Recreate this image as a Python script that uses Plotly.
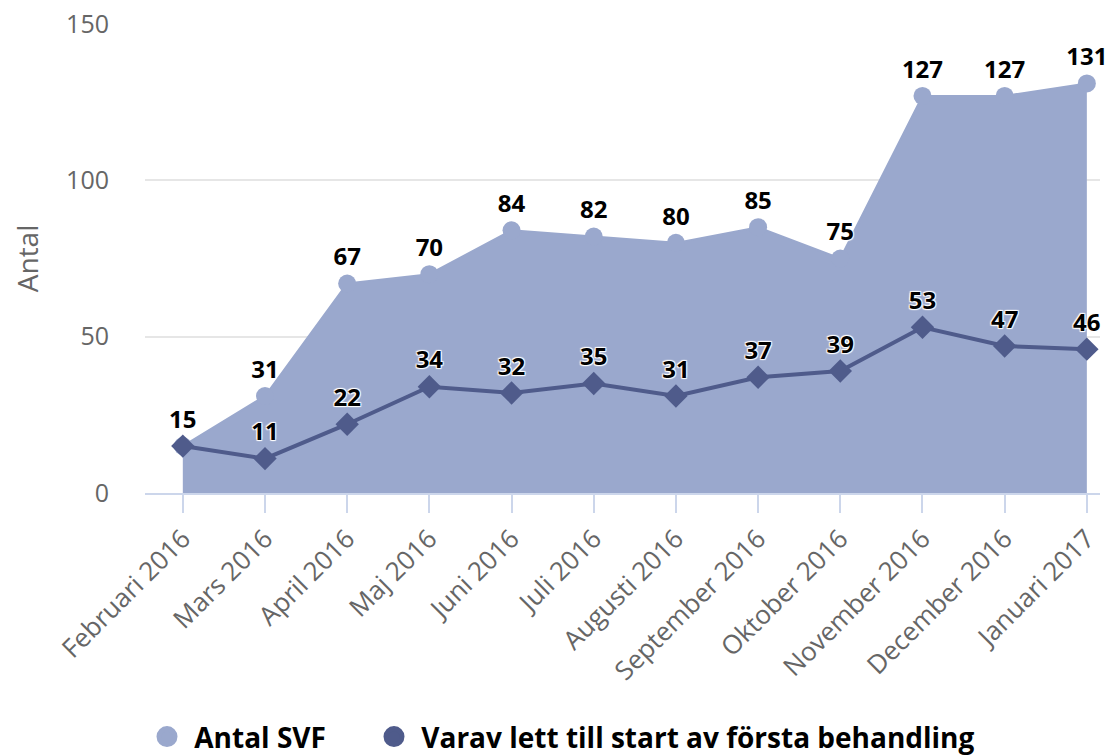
import plotly.graph_objects as go

months = [
    "Februari 2016", "Mars 2016", "April 2016", "Maj 2016", "Juni 2016",
    "Juli 2016", "Augusti 2016", "September 2016", "Oktober 2016",
    "November 2016", "December 2016", "Januari 2017",
]
antal_svf = [15, 31, 67, 70, 84, 82, 80, 85, 75, 127, 127, 131]
varav_start = [15, 11, 22, 34, 32, 35, 31, 37, 39, 53, 47, 46]

LIGHT = "#9aa8cd"
DARK = "#4f5b8b"
FONT = "Open Sans"
OUTLINE = "1px 1px 1px #fff, -1px -1px 1px #fff, 1px -1px 1px #fff, -1px 1px 1px #fff"

x = list(range(len(months)))
fig = go.Figure()

label_font = dict(family=FONT, size=24, color="#000", weight="bold", shadow=OUTLINE)

# area series with round markers
fig.add_trace(
    go.Scatter(
        x=x,
        y=antal_svf,
        name="Antal SVF",
        mode="lines+markers+text",
        fill="tozeroy",
        fillcolor=LIGHT,
        line=dict(color=LIGHT, width=2),
        marker=dict(symbol="circle", size=18, color=LIGHT),
        text=[str(v) for v in antal_svf],
        textposition="top center",
        textfont=label_font,
        cliponaxis=False,
        showlegend=False,
    )
)

# line series with diamonds
fig.add_trace(
    go.Scatter(
        x=x,
        y=varav_start,
        name="Varav lett till start av första behandling",
        mode="lines+markers+text",
        line=dict(color=DARK, width=4),
        marker=dict(symbol="diamond", size=18, color=DARK),
        text=[str(v) for v in varav_start],
        textposition="top center",
        textfont=label_font,
        cliponaxis=False,
        showlegend=False,
    )
)

# legend entries drawn as plain circles, one legend box each
legend_items = [
    ("Antal SVF", LIGHT, "legend"),
    ("Varav lett till start av första behandling", DARK, "legend2"),
]
for name, color, leg in legend_items:
    fig.add_trace(
        go.Scatter(
            x=[None],
            y=[None],
            name="\u00a0" + name,
            mode="markers",
            marker=dict(symbol="circle", size=16, color=color, line=dict(color=color, width=5)),
            showlegend=True,
            legend=leg,
        )
    )

legend_style = dict(
    orientation="h",
    xref="container",
    yref="container",
    xanchor="left",
    y=0.024,
    yanchor="middle",
    font=dict(family=FONT, size=28, color="#000", weight="bold"),
    itemsizing="trace",
    itemclick=False,
    itemdoubleclick=False,
)

fig.update_layout(
    width=1114,
    height=755,
    margin=dict(l=145, r=14, t=24, b=262),
    paper_bgcolor="white",
    plot_bgcolor="white",
    font=dict(family=FONT, color="#666"),
    showlegend=True,
    legend=dict(legend_style, x=147 / 1114),
    legend2=dict(legend_style, x=374 / 1114),
    xaxis=dict(
        range=[-0.46, 11.16],
        tickmode="array",
        tickvals=x,
        ticktext=months,
        tickangle=-45,
        tickfont=dict(family=FONT, size=26, color="#666"),
        showgrid=False,
        zeroline=False,
        showline=True,
        linecolor="#ccd6eb",
        linewidth=2,
        ticks="outside",
        ticklen=18,
        tickcolor="#ccd6eb",
        tickwidth=2,
        automargin=False,
    ),
    yaxis=dict(
        range=[0, 150],
        tickvals=[0, 50, 100, 150],
        tickfont=dict(family=FONT, size=25, color="#666"),
        ticklabeloverflow="allow",
        gridcolor="#e6e6e6",
        gridwidth=2,
        zeroline=False,
        showline=False,
        ticklabelstandoff=35,
        automargin=False,
        title=dict(text="Antal", font=dict(family=FONT, size=28, color="#666"), standoff=19),
    ),
)

# drop the default 8px body margin so the figure fills the window exactly
fig.write_html(
    "out.html",
    config={"displayModeBar": False},
    post_script="document.body.style.margin = '0';",
)
